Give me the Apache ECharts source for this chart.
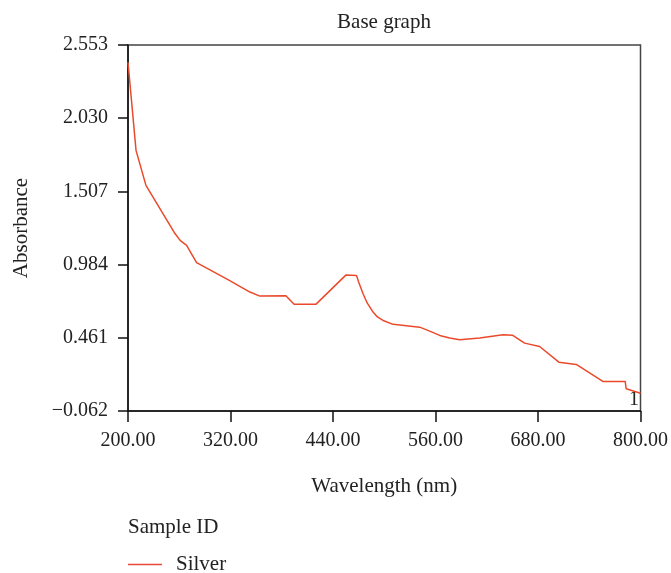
<!DOCTYPE html>
<html>
<head>
<meta charset="utf-8">
<script src="https://cdn.jsdelivr.net/npm/echarts@6/dist/echarts.min.js"></script>
<style>html,body{margin:0;padding:0;background:#fff}#c{width:671px;height:573px}</style>
</head>
<body>
<div id="c"></div>
<script>
const wavelength = [200, 209.4, 221, 255, 261, 268.6, 280.3, 317, 342.7, 354.4, 384.8, 394.5, 419.9, 455, 467.5, 470, 475.2, 480, 486.9, 492, 498.6, 510.3, 541.5, 553.2, 564.9, 576.6, 588.3, 611.7, 639, 650, 664.3, 681.9, 704.4, 724.8, 755.9, 782.1, 783.2, 800];
const absorbance = [2.43, 1.80, 1.55, 1.206, 1.157, 1.122, 0.998, 0.876, 0.788, 0.759, 0.762, 0.700, 0.700, 0.909, 0.907, 0.86, 0.776, 0.71, 0.645, 0.61, 0.585, 0.557, 0.537, 0.509, 0.478, 0.459, 0.447, 0.459, 0.483, 0.480, 0.423, 0.399, 0.287, 0.271, 0.149, 0.149, 0.097, 0.065];
const yTicks = [-0.062, 0.461, 0.984, 1.507, 2.030, 2.553];
const xTicks = [200, 320, 440, 560, 680, 800];
const seriesName = 'Silver';

const FONT = 'Liberation Serif';
const TXT = '#222';
const chart = echarts.init(document.getElementById('c'), null, {renderer: 'canvas'});
chart.setOption({
  animation: false,
  backgroundColor: '#fff',
  title: [
    {text: 'Sample ID', left: 128, top: 517, padding: 0,
     textStyle: {fontFamily: FONT, fontSize: 21, fontWeight: 'normal', color: TXT}}
  ],
  legend: {
    left: 128, top: 554, padding: 0, itemWidth: 34, itemHeight: 1.3, icon: 'rect',
    data: [seriesName],
    itemStyle: {color: '#e8483a'},
    textStyle: {fontFamily: FONT, fontSize: 21, color: TXT, padding: [0, 0, 0, 9]}
  },
  grid: {left: 128, right: 29, top: 45, bottom: 162, show: true, borderColor: '#444', borderWidth: 1.5},
  xAxis: {
    type: 'value', min: 200, max: 800,
    name: 'Wavelength (nm)', nameLocation: 'middle', nameGap: 65,
    nameTextStyle: {fontFamily: FONT, fontSize: 21, color: TXT},
    axisLine: {show: true, onZero: false, lineStyle: {color: '#111', width: 1.5}},
    axisTick: {show: true, length: 11, customValues: xTicks, lineStyle: {color: '#111', width: 1.5}},
    axisLabel: {customValues: xTicks, margin: 20, fontFamily: FONT, fontSize: 20, color: TXT,
      formatter: v => v.toFixed(2)},
    splitLine: {show: false}
  },
  yAxis: {
    type: 'value', min: -0.062, max: 2.553,
    name: 'Absorbance', nameLocation: 'middle', nameGap: 96,
    nameTextStyle: {fontFamily: FONT, fontSize: 21, color: TXT},
    axisLine: {show: true, onZero: false, lineStyle: {color: '#111', width: 1.5}},
    axisTick: {show: true, length: 10, customValues: yTicks, lineStyle: {color: '#111', width: 1.5}},
    axisLabel: {customValues: yTicks, margin: 20, fontFamily: FONT, fontSize: 20, color: TXT,
      formatter: v => (v < 0 ? '\u2212' + Math.abs(v).toFixed(3) : v.toFixed(3))},
    splitLine: {show: false}
  },
  graphic: [
    {type: 'text', x: 384, y: 12,
     style: {text: 'Base graph', font: '21px "Liberation Serif"', fill: TXT, textAlign: 'center'}},
    {type: 'text', x: 639, y: 410,
     style: {text: '1', font: '20px "Liberation Serif"', fill: TXT, textAlign: 'right', textVerticalAlign: 'bottom'}}
  ],
  series: [{
    name: seriesName, type: 'line', symbol: 'none',
    data: wavelength.map((w, i) => [w, absorbance[i]]),
    lineStyle: {color: '#ea4a2a', width: 1.5},
    itemStyle: {color: '#ea4a2a'}
  }]
});
</script>
</body>
</html>
